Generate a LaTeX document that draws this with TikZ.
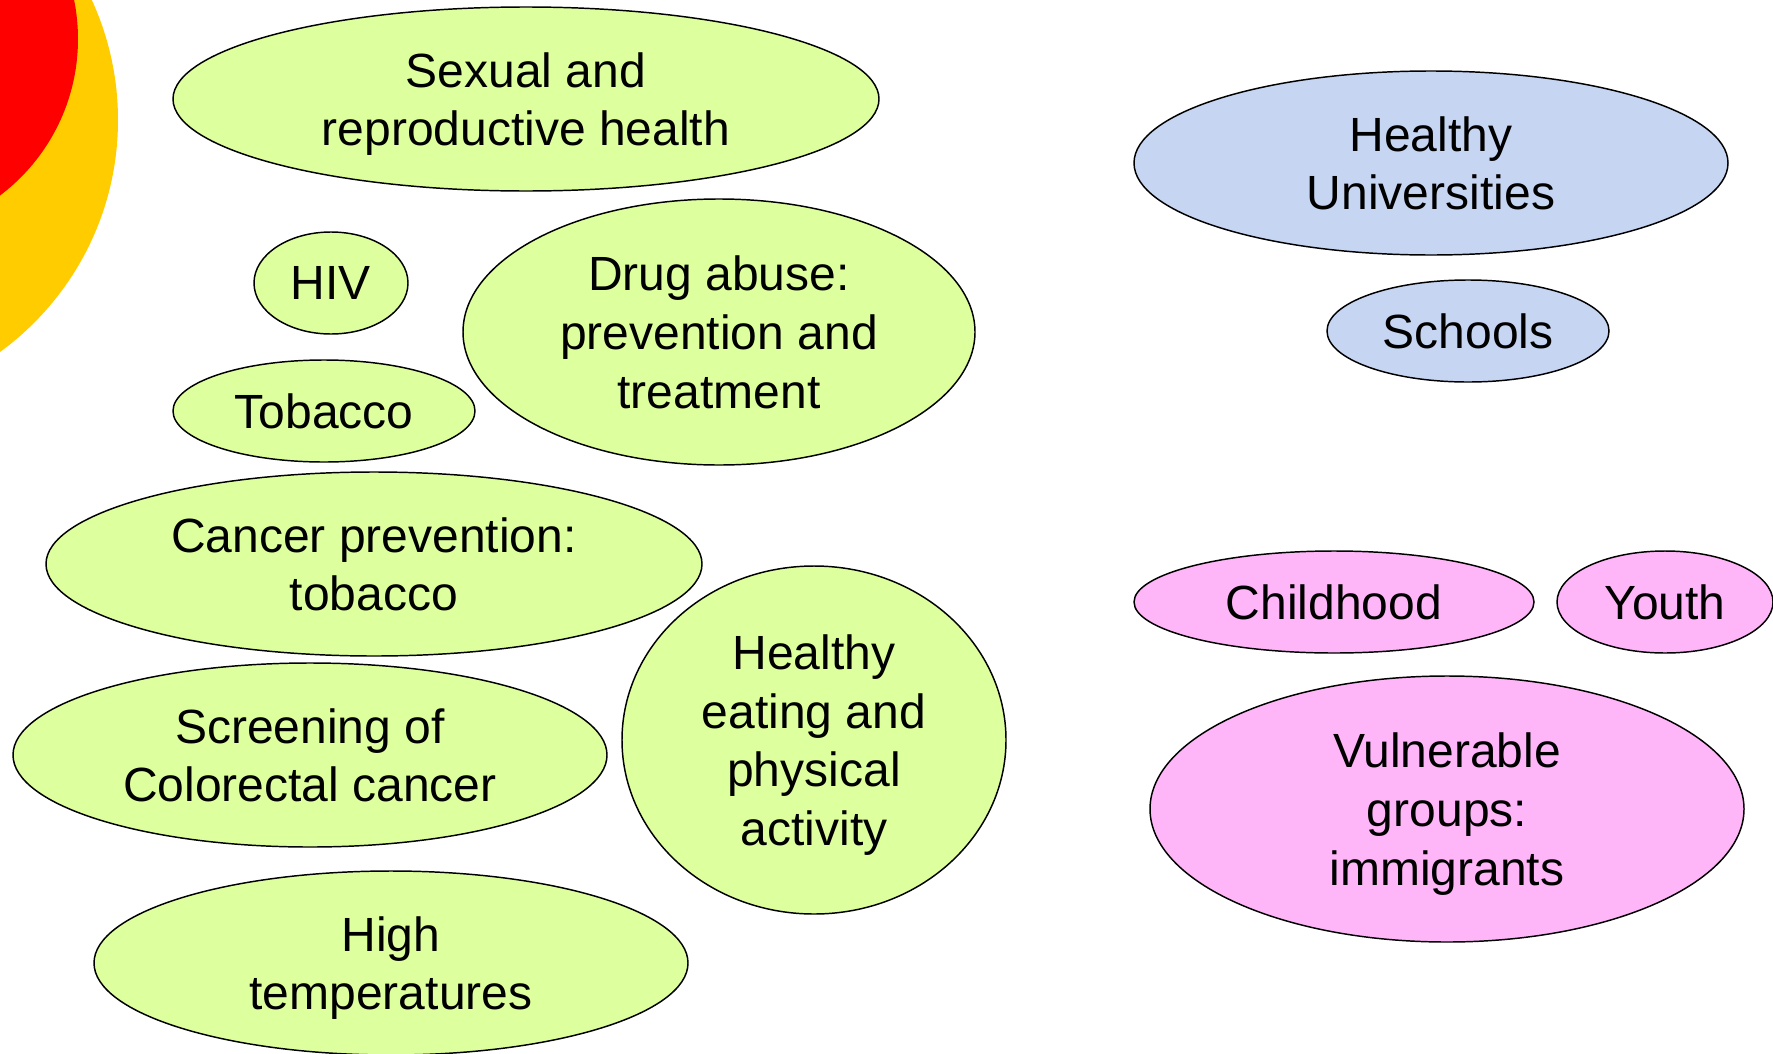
\documentclass[tikz,border=0pt]{standalone}
\usepackage{fontspec}
\setmainfont{Liberation Sans}
\usetikzlibrary{shapes.geometric}

\definecolor{topicgreen}{RGB}{222,255,158}
\definecolor{settingblue}{RGB}{198,213,242}
\definecolor{grouppink}{RGB}{255,182,249}
\definecolor{cornerred}{RGB}{255,0,0}
\definecolor{corneryellow}{RGB}{255,204,0}

\tikzset{every picture/.style={line width=0.75pt}}
\tikzset{
  blob/.style 2 args={ellipse, draw=black, line width=1.1pt, inner sep=0pt,
    minimum width=#1*1.5pt, minimum height=#2*1.5pt, align=center,
    text depth=0pt, font=\fontsize{36}{44}\selectfont},
  lines/.style={text depth=-3pt},
  topic/.style={fill=topicgreen},
  setting/.style={fill=settingblue},
  group/.style={fill=grouppink}
}

\begin{document}
\begin{tikzpicture}[x=0.75pt,y=0.75pt,yscale=-1,xscale=1]
\useasboundingbox (0,0) rectangle (1773,1053);
\clip (0,0) rectangle (1773,1053);

%Shape: Circle corner
\fill [corneryellow] (-169,120) circle [radius=287*0.75pt];
\fill [cornerred] (-118,39) circle [radius=196*0.75pt];

% Topics
\node [blob={353}{92}, topic, lines] (sexual) at (526,99) {Sexual and\\reproductive health};
\node [blob={77}{51}, topic] (hiv) at (331,283) {HIV};
\node [blob={256}{133}, topic, lines] (drugs) at (719,332) {Drug abuse:\\prevention and\\treatment};
\node [blob={151}{51}, topic] (tobacco) at (324,411) {Tobacco};
\node [blob={328}{92}, topic, lines] (cancer) at (374,564) {Cancer prevention:\\tobacco};
\node [blob={297}{92}, topic, lines] (screening) at (310,755) {Screening of\\Colorectal cancer};
\node [blob={192}{174}, topic, lines] (eating) at (814,740) {Healthy\\eating and\\physical\\activity};
\node [blob={297}{92}, topic, lines] (heat) at (391,963) {High\\temperatures};

% Settings
\node [blob={297}{92}, setting, lines] (universities) at (1431,163) {Healthy\\Universities};
\node [blob={141}{51}, setting] (schools) at (1468,331) {Schools};

% Groups
\node [blob={200}{51}, group] (childhood) at (1334,602) {Childhood};
\node [blob={108}{51}, group] (youth) at (1665,602) {Youth};
\node [blob={297}{133}, group, lines] (vulnerable) at (1447,809) {Vulnerable\\groups:\\immigrants};

\end{tikzpicture}
\end{document}
